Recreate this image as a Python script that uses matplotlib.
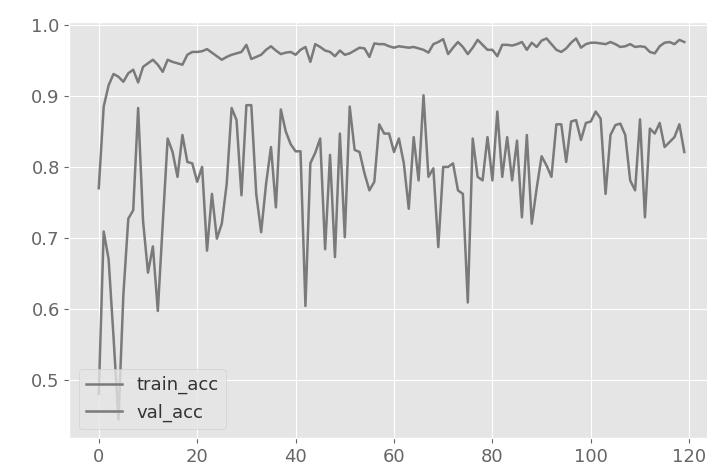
import numpy as np
import matplotlib
matplotlib.use("Agg")
import matplotlib.pyplot as plt

# values
train_acc = [
    0.770, 0.885, 0.915, 0.931, 0.927, 0.920, 0.932, 0.937, 0.919, 0.941,
    0.946, 0.951, 0.944, 0.934, 0.951, 0.948, 0.946, 0.944, 0.958, 0.962,
    0.962, 0.963, 0.966, 0.961, 0.956, 0.951, 0.955, 0.958, 0.960, 0.962,
    0.972, 0.952, 0.955, 0.958, 0.965, 0.970, 0.964, 0.959, 0.961, 0.962,
    0.958, 0.965, 0.969, 0.948, 0.973, 0.969, 0.964, 0.962, 0.956, 0.964,
    0.958, 0.960, 0.964, 0.968, 0.967, 0.955, 0.974, 0.973, 0.973, 0.970,
    0.968, 0.970, 0.969, 0.968, 0.969, 0.967, 0.965, 0.961, 0.973, 0.976,
    0.980, 0.959, 0.968, 0.976, 0.969, 0.959, 0.968, 0.979, 0.972, 0.965,
    0.965, 0.956, 0.972, 0.972, 0.971, 0.973, 0.976, 0.965, 0.975, 0.969,
    0.978, 0.981, 0.973, 0.965, 0.962, 0.967, 0.975, 0.981, 0.968, 0.973,
    0.975, 0.975, 0.974, 0.973, 0.976, 0.973, 0.969, 0.970, 0.973, 0.969,
    0.970, 0.969, 0.962, 0.960, 0.970, 0.975, 0.976, 0.973, 0.979, 0.976,
]
val_acc = [
    0.480, 0.709, 0.670, 0.560, 0.444, 0.620, 0.727, 0.739, 0.883, 0.724,
    0.651, 0.688, 0.597, 0.720, 0.840, 0.821, 0.786, 0.845, 0.807, 0.805,
    0.779, 0.800, 0.682, 0.762, 0.699, 0.720, 0.776, 0.883, 0.866, 0.760,
    0.887, 0.887, 0.762, 0.708, 0.776, 0.828, 0.743, 0.881, 0.850, 0.832,
    0.822, 0.822, 0.604, 0.805, 0.820, 0.840, 0.684, 0.817, 0.673, 0.847,
    0.701, 0.885, 0.824, 0.821, 0.791, 0.767, 0.779, 0.860, 0.847, 0.847,
    0.821, 0.840, 0.805, 0.741, 0.842, 0.781, 0.901, 0.786, 0.798, 0.687,
    0.800, 0.800, 0.805, 0.767, 0.762, 0.609, 0.840, 0.786, 0.781, 0.842,
    0.781, 0.878, 0.786, 0.842, 0.781, 0.837, 0.729, 0.845, 0.720, 0.770,
    0.815, 0.802, 0.786, 0.860, 0.860, 0.807, 0.864, 0.866, 0.838, 0.862,
    0.864, 0.878, 0.868, 0.762, 0.845, 0.859, 0.861, 0.845, 0.781, 0.767,
    0.867, 0.729, 0.854, 0.847, 0.862, 0.828, 0.835, 0.842, 0.860, 0.821,
]
epochs = np.arange(len(train_acc))

plt.style.use("ggplot")

fig = plt.figure(figsize=(7.07, 4.71), dpi=100)
# the reference is cropped on the right, so the axes run past the figure edge
ax = fig.add_axes([0.0983, 0.070, 0.911, 0.883])

line_color = "#7a7a7a"
ax.plot(epochs, train_acc, color=line_color, linewidth=1.8, label="train_acc")
ax.plot(epochs, val_acc, color=line_color, linewidth=1.8, label="val_acc")

ax.set_ylim(0.418, 1.004)
ax.tick_params(labelsize=13, colors="#666666")
for lbl in ax.get_xticklabels() + ax.get_yticklabels():
    lbl.set_color("#666666")

leg = ax.legend(loc="lower left", fontsize=13)
for txt in leg.get_texts():
    txt.set_color("#333333")

fig.savefig("out.png", dpi=100)
plt.close(fig)
